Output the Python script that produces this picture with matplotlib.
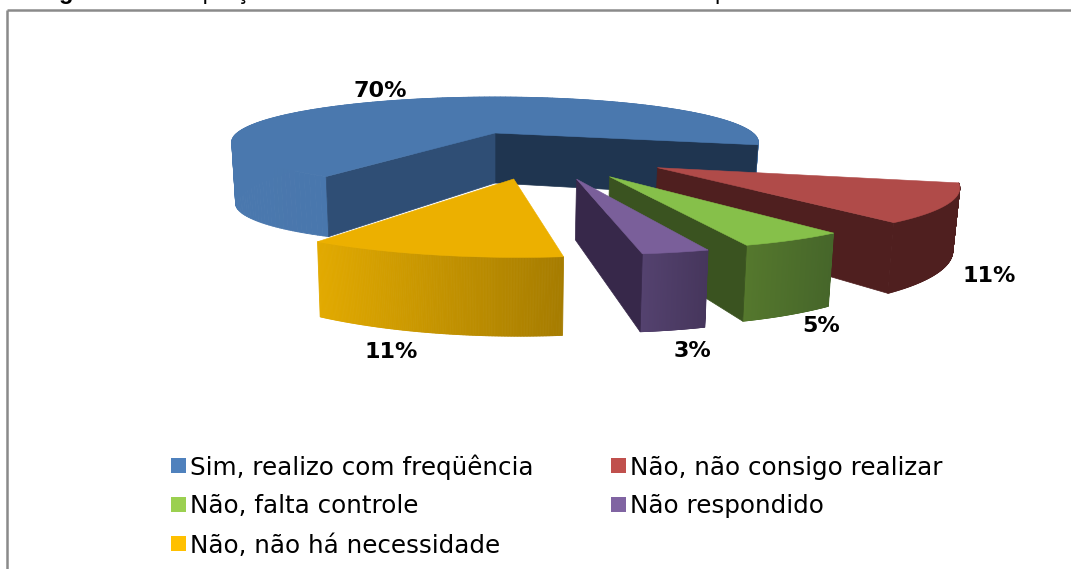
import numpy as np
import matplotlib
matplotlib.use("Agg")
import matplotlib.pyplot as plt
from matplotlib.patches import Polygon, Patch
from matplotlib.collections import PolyCollection
from matplotlib.colors import to_rgb

categories = ["Sim, realizo com freqüência", "Não, não consigo realizar",
              "Não, falta controle", "Não respondido", "Não, não há necessidade"]
values = [70, 11, 5, 3, 11]
value_labels = ["70%", "11%", "5%", "3%", "11%"]

legend_colors = ["#4f81bd", "#c0504d", "#9bd050", "#8064a2", "#ffc000"]
top_colors = ["#4a78ae", "#b04b49", "#86c04a", "#7a5f9a", "#ecb000"]
wall_left = ["#4a78ae", "#4f1f1f", "#55782d", "#54426f", "#e2aa00"]
wall_right = ["#4673a8", "#4f1f1f", "#46662a", "#46365c", "#a67c00"]
cut_colors = ["#2f4e75", "#4f1f1f", "#3a5320", "#37284a", "#a67c00"]

# projection of the pie disc onto the page
CX, CY, R, T, P, D = 495.0, 133.0, 258.0, 43.2, 0.2, 50.0
FIRST_ANGLE, EXPLODE = 213.0, 0.46
BOTTOM_X = 0.985
SLICE_RADIUS = [1.0, 0.95, 0.91, 0.92, 0.95]


def project(u, f, low=False, extra=0.0):
    u, f = np.asarray(u, float), np.asarray(f, float)
    s = 1 / (1 - P * f)
    k = BOTTOM_X if low else 1.0
    x = CX + R * u * s * k
    y = CY + T * f * s + ((D * s + extra) if low else 0)
    return x, y


def direction(theta):
    t = np.radians(theta)
    return np.sin(t), -np.cos(t)


fig = plt.figure(figsize=(10.71, 5.69), dpi=100)
ax = fig.add_axes([0, 0, 1, 1])
ax.set_xlim(0, 1071)
ax.set_ylim(569, 0)
ax.axis("off")

# page frame and clipped caption above it
ax.plot([7, 7], [569, 10], color="#8a8a8a", lw=1.8, solid_capstyle="butt")
ax.plot([7, 1071], [10, 10], color="#8a8a8a", lw=1.8, solid_capstyle="butt")
ax.text(38, -1, "Figura", fontsize=17, fontweight="bold", family="Liberation Sans", va="baseline")
ax.text(166, -1, "Proporção", fontsize=17, family="Liberation Sans", va="baseline")
ax.text(714, -1, "p", fontsize=17, family="Liberation Sans", va="baseline")

fractions = np.array(values, float) / sum(values) * 360
starts = FIRST_ANGLE + np.concatenate([[0], np.cumsum(fractions)[:-1]])
ends = starts + fractions
mids = (starts + ends) / 2
du0, df0 = direction(mids[0])

label_offsets = [(-37, -8), (41, 72), (27, 86), (16, 99), (-40, 97)]

for i in range(len(values)):
    du, df = direction(mids[i])
    ou, of = EXPLODE * (du - du0), EXPLODE * (df - df0)
    rad = SLICE_RADIUS[i]
    th = np.linspace(starts[i], ends[i], 181)
    au, af = direction(th)
    ru, rf = ou + rad * au, of + rad * af
    extra = 0.0
    if i == 0:
        extra = 12 * np.clip((th - starts[0]) / 57, 0, 1) * np.clip((400 - th) / 50, 0, 1)
    xt, yt = project(ru, rf)
    xb, yb = project(ru, rf, low=True, extra=extra)
    ax_, ay_ = project(ou, of)
    bx_, by_ = project(ou, of, low=True)
    z = 10 + i

    c0, c1 = np.array(to_rgb(wall_left[i])), np.array(to_rgb(wall_right[i]))
    lo, hi = xt.min(), xt.max()
    quads, cols = [], []
    for j in range(len(th) - 1):
        quads.append([(xt[j], yt[j]), (xt[j + 1], yt[j + 1]), (xb[j + 1], yb[j + 1]), (xb[j], yb[j])])
        m = (xt[j] - lo) / (hi - lo)
        cols.append(c0 + (c1 - c0) * m)
    ax.add_collection(PolyCollection(quads, facecolors=cols, edgecolors=cols, linewidths=0.6, zorder=z))

    if i == 0:
        ax.add_patch(Polygon([(ax_, ay_), (xt[-1], yt[-1]), (xb[-1], yb[-1]), (bx_, by_)],
                             closed=True, fc="#1f3550", ec="#1f3550", lw=0.5, zorder=z + 0.1))
        ax.add_patch(Polygon([(ax_, ay_), (xt[0], yt[0]), (xb[0], yb[0]), (bx_, by_)],
                             closed=True, fc=cut_colors[0], ec=cut_colors[0], lw=0.5, zorder=z + 0.2))
    elif i < 4:
        ax.add_patch(Polygon([(ax_, ay_), (xt[-1], yt[-1]), (xb[-1], yb[-1]), (bx_, by_)],
                             closed=True, fc=cut_colors[i], ec=cut_colors[i], lw=0.5, zorder=z + 0.1))

    top = [(ax_, ay_)] + list(zip(xt, yt))
    ax.add_patch(Polygon(top, closed=True, fc=top_colors[i], ec=top_colors[i], lw=0.4, zorder=z + 0.3))

    mu, mf = direction(mids[i])
    rx, ry = project(ou + rad * mu, of + rad * mf)
    dx, dy = label_offsets[i]
    ax.text(rx + dx, ry + dy, value_labels[i], ha="center", va="center", fontsize=16,
            fontweight="bold", family="DejaVu Sans", color="black", zorder=30)

order = [0, 2, 4, 1, 3]
handles = [Patch(fc=legend_colors[k], ec="none", label=categories[k]) for k in order]
FS = 17.7
px = FS * 100 / 72
ax.legend(handles=handles, ncol=2, loc="upper left", bbox_to_anchor=(171, 454),
          bbox_transform=ax.transData, frameon=False, borderpad=0, borderaxespad=0,
          prop={"family": "DejaVu Sans", "size": FS}, handlelength=15 / px, handleheight=14 / px,
          handletextpad=4 / px, labelspacing=15 / px, columnspacing=77 / px)

fig.savefig("out.png", dpi=100)
